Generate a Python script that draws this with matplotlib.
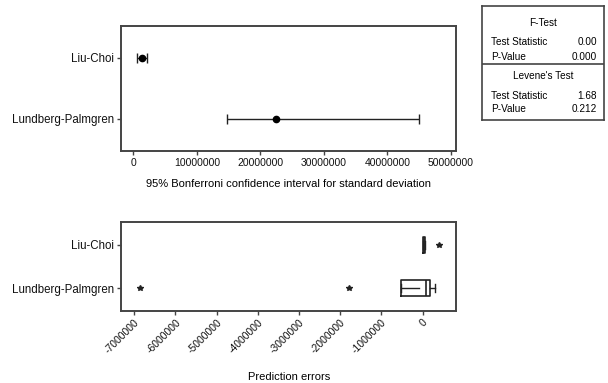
import matplotlib
matplotlib.use("Agg")
import matplotlib.pyplot as plt

plt.rcParams['font.family'] = ['Liberation Sans', 'DejaVu Sans']

categories = ["Liu-Choi", "Lundberg-Palmgren"]
cat_pos = [2, 1]

# 95% Bonferroni CI for standard deviation
sd_est = [1.3e6, 2.24e7]
ci_low = [0.65e6, 1.47e7]
ci_high = [2.1e6, 4.5e7]
top_ticks = [0, 10000000, 20000000, 30000000, 40000000, 50000000]

# prediction error boxplots
q1 = [0.0e6, -0.52e6]
med = [0.04e6, 0.08e6]
q3 = [0.07e6, 0.19e6]
whis_lo = [0.0e6, -0.52e6]
whis_hi = [0.07e6, 0.31e6]
outliers = [[0.41e6], [-1.78e6, -6.87e6]]
inner_line_end = [0.0e6, -0.08e6]
bottom_ticks = [-7000000, -6000000, -5000000, -4000000, -3000000, -2000000, -1000000, 0]

# test table
f_test = [("Test Statistic", "0.00"), ("P-Value", "0.000")]
levene = [("Test Statistic", "1.68"), ("P-Value", "0.212")]

line_col = '#222222'
spine_col = '#444444'


def style_axes(ax):
    for s in ax.spines.values():
        s.set_color(spine_col)
        s.set_linewidth(1.4)
    ax.tick_params(axis='both', length=3, width=1, color=spine_col,
                   labelsize=7.5, labelcolor='#111111', pad=2)
    ax.set_yticks(cat_pos)
    ax.set_yticklabels(categories, fontsize=8.3)
    ax.set_ylim(0.48, 2.52)


fig = plt.figure(figsize=(6.08, 3.83), dpi=100)

# top panel
ax1 = fig.add_axes([0.199, 0.6065, 0.5505, 0.3265])
err = [[m - l for m, l in zip(sd_est, ci_low)], [h - m for m, h in zip(sd_est, ci_high)]]
ax1.errorbar(sd_est, cat_pos, xerr=err, fmt='o', color='black', ecolor=line_col,
             elinewidth=1, capsize=3.5, capthick=1, markersize=4.5)
style_axes(ax1)
ax1.set_xlim(-1.94e6, 5.077e7)
ax1.set_xticks(top_ticks)
ax1.set_xticklabels([str(t) for t in top_ticks])
ax1.set_xlabel("95% Bonferroni confidence interval for standard deviation",
               fontsize=8, labelpad=8)

# bottom panel
ax2 = fig.add_axes([0.199, 0.1888, 0.5515, 0.2308])
stats = []
for i in range(len(categories)):
    stats.append(dict(med=med[i], q1=q1[i], q3=q3[i], whislo=whis_lo[i],
                      whishi=whis_hi[i], fliers=outliers[i]))
ax2.bxp(stats, positions=cat_pos, vert=False, widths=0.37, showcaps=True,
        manage_ticks=False,
        boxprops=dict(color=line_col, linewidth=1.2),
        medianprops=dict(color=line_col, linewidth=1.2),
        whiskerprops=dict(color=line_col, linewidth=1),
        capprops=dict(color=line_col, linewidth=1),
        flierprops=dict(marker='*', markersize=4, markerfacecolor='#222222',
                        markeredgecolor='#222222', linestyle='none'))
for i in range(len(categories)):
    ax2.plot([q1[i], inner_line_end[i]], [cat_pos[i], cat_pos[i]], color=line_col, lw=1)
style_axes(ax2)
ax2.set_xlim(-7.32e6, 0.82e6)
ax2.set_xticks(bottom_ticks)
ax2.set_xticklabels([str(t) for t in bottom_ticks], rotation=45, ha='right',
                    rotation_mode='anchor', fontsize=7.5)
ax2.set_xlabel("Prediction errors", fontsize=8, labelpad=12)

# test summary table
W, H = 608.0, 383.0
tx0, tx1, ty0, ty1 = 481.7, 604.3, 5.7, 120.0
tab = fig.add_axes([tx0 / W, 1 - ty1 / H, (tx1 - tx0) / W, (ty1 - ty0) / H])
tab.set_xlim(tx0, tx1)
tab.set_ylim(ty1, ty0)
tab.set_xticks([])
tab.set_yticks([])
for s in tab.spines.values():
    s.set_color(spine_col)
    s.set_linewidth(1.2)
tab.axhline(64, color=spine_col, lw=1.2)
fs = 7.2
tab.text((tx0 + tx1) / 2, 23.3, "F-Test", ha='center', va='center', fontsize=fs)
for (lab, val), y in zip(f_test, [42.3, 57.3]):
    tab.text(490.7, y, lab, ha='left', va='center', fontsize=fs)
    tab.text(597, y, val, ha='right', va='center', fontsize=fs)
tab.text((tx0 + tx1) / 2, 76, "Levene's Test", ha='center', va='center', fontsize=fs)
for (lab, val), y in zip(levene, [95.7, 109]):
    tab.text(490.7, y, lab, ha='left', va='center', fontsize=fs)
    tab.text(597, y, val, ha='right', va='center', fontsize=fs)

plt.savefig("out.png", dpi=100)
